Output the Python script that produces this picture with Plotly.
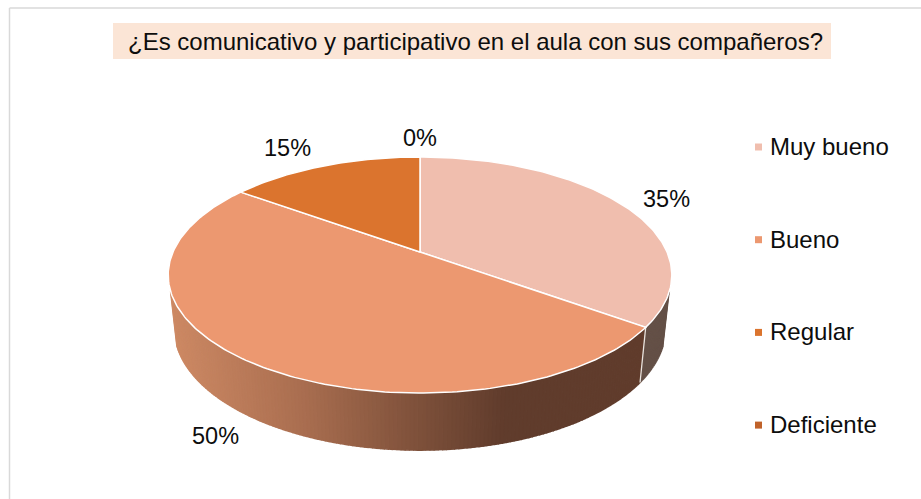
import numpy as np
import plotly.graph_objects as go

# data
TITLE = "¿Es comunicativo y participativo en el aula con sus compañeros?"
categories = ["Muy bueno", "Bueno", "Regular", "Deficiente"]
values = [35, 50, 15, 0]
top_colors = ["#F0BEAE", "#EC9870", "#DB742E", "#C0622A"]
# where each percentage label sits (same order as values)
label_x = [666, 215, 287, 420]
label_y = [199, 436, 148, 138]

FONT = "Liberation Sans, Arial, sans-serif"
W, H = 921, 499

# perspective of the pie disk, in pixels
CX, APEX_Y, RX = 420, 252, 247
KP, AY = 0.195, -64.4
# bottom rim relative to the top rim
SX, SY, RIM_Y, MID_Y = 0.975, 1.03, 328.5, 275


def top_rim(theta):
    u, v = np.sin(theta), np.cos(theta)
    d = 1 + KP * v
    return CX + RX * u / d, (AY * v + APEX_Y) / d


def bottom_rim(theta):
    x, y = top_rim(theta)
    return CX + SX * (x - CX), RIM_Y + SY * (y - MID_Y)


def wall_color(x, slice_idx):
    if slice_idx == 0:
        return "rgb(100,80,71)"
    xs = [170, 300, 420, 505, 680]
    r = np.interp(x, xs, [205, 170, 125, 96, 96])
    g = np.interp(x, xs, [137, 110, 80, 60, 60])
    b = np.interp(x, xs, [100, 80, 58, 44, 44])
    return f"rgb({r:.0f},{g:.0f},{b:.0f})"


edges = np.cumsum([0] + values) / sum(values) * 2 * np.pi

fig = go.Figure()

# side wall, thin strips so the shading runs across it
wall_from, wall_to = np.radians(109), np.radians(251)
strips = np.linspace(wall_from, wall_to, 180)
for a, b in zip(strips[:-1], strips[1:]):
    mid = (a + b) / 2
    idx = int(np.searchsorted(edges, mid) - 1)
    xa, ya = top_rim(np.array([a, b]))
    xb, yb = bottom_rim(np.array([b, a]))
    col = wall_color((xa[0] + xa[1]) / 2, idx)
    fig.add_trace(go.Scatter(
        x=list(xa) + list(xb), y=list(ya) + list(yb),
        mode="lines", fill="toself", fillcolor=col,
        line=dict(color=col, width=1.6), hoverinfo="skip", showlegend=False
    ))

# seams on the wall
for e in edges[1:-1]:
    if wall_from < e < wall_to:
        x0, y0 = top_rim(e)
        x1, y1 = bottom_rim(e)
        fig.add_trace(go.Scatter(
            x=[x0, x1], y=[y0, y1], mode="lines",
            line=dict(color="#E8E4E0", width=1.3), hoverinfo="skip", showlegend=False
        ))

# top face
for i, cat in enumerate(categories):
    if values[i] == 0:
        continue
    t = np.linspace(edges[i], edges[i + 1], max(2, int(values[i] * 4)))
    x, y = top_rim(t)
    fig.add_trace(go.Scatter(
        x=[CX] + list(x) + [CX], y=[APEX_Y] + list(y) + [APEX_Y],
        mode="lines", fill="toself", fillcolor=top_colors[i],
        line=dict(color="white", width=1.5), name=cat,
        hoverinfo="name", showlegend=False
    ))

# legend drawn by hand so the tight key-to-text gap holds
legend_y = [147 + 92.7 * i for i in range(len(categories))]
fig.add_trace(go.Scatter(
    x=[758.5] * len(categories), y=legend_y, mode="markers",
    marker=dict(symbol="square", size=7, color=top_colors),
    hoverinfo="skip", showlegend=False
))
for cat, ly in zip(categories, legend_y):
    fig.add_annotation(
        x=767.5, y=ly - 0.5, text=cat, showarrow=False, xanchor="left",
        font=dict(family=FONT, size=24, color="#0D0D0D")
    )

for v, lx, ly in zip(values, label_x, label_y):
    fig.add_annotation(
        x=lx, y=ly, text=f"{v}%", showarrow=False,
        font=dict(family=FONT, size=23.5, color="#0D0D0D")
    )

fig.add_annotation(
    x=475.5, y=41, text=TITLE, showarrow=False,
    font=dict(family=FONT, size=24, color="#0D0D0D")
)

# title band and chart frame
fig.add_shape(type="rect", x0=113, x1=831, y0=23, y1=59,
              fillcolor="#FBE5D6", line_width=0, layer="below")
fig.add_shape(type="line", x0=9.5, x1=W, y0=8, y1=8, line=dict(color="#D9D9D9", width=1.5))
fig.add_shape(type="line", x0=9.5, x1=9.5, y0=8, y1=H, line=dict(color="#D9D9D9", width=1.5))

fig.update_layout(
    width=W, height=H, margin=dict(t=0, b=0, l=0, r=0),
    paper_bgcolor="white", plot_bgcolor="white",
    xaxis=dict(range=[0, W], visible=False, fixedrange=True),
    yaxis=dict(range=[H, 0], visible=False, fixedrange=True),
    font=dict(family=FONT),
    showlegend=False
)
# drop the browser's default body margin so the chart sits at the window corner
fig.write_html("out.html", config=dict(displayModeBar=False),
               post_script="document.body.style.margin='0';document.body.style.overflow='hidden';")
